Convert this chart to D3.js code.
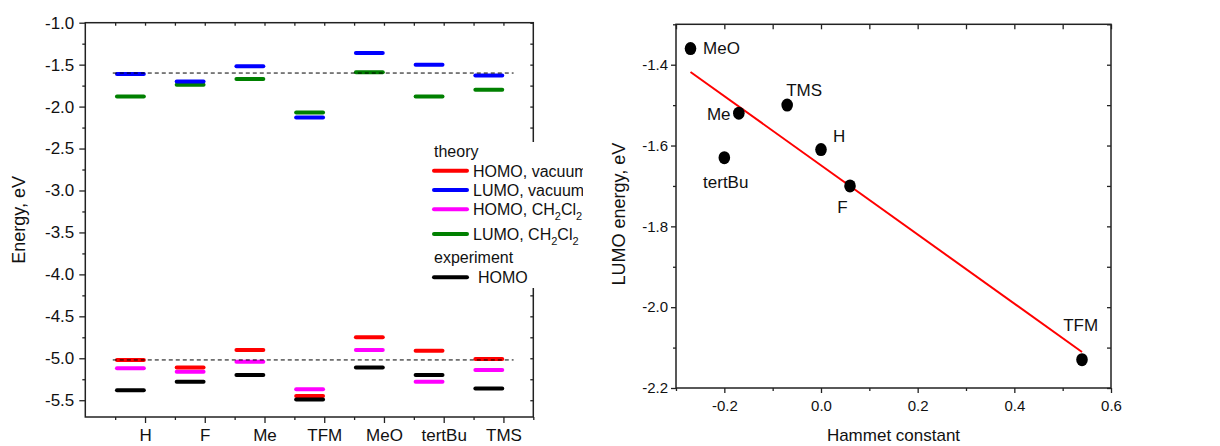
<!DOCTYPE html>
<html><head><meta charset="utf-8">
<script src="https://cdn.jsdelivr.net/npm/d3@7"></script>
<style>
body{margin:0;background:#fff}
svg{display:block}
text{font-family:"Liberation Sans",Arial,sans-serif;fill:#111}
</style>
</head><body><svg id="c" width="1220" height="446"></svg>
<script>
// ---------- Left chart data ----------
const categories = ["H","F","Me","TFM","MeO","tertBu","TMS"];
const homoVacuum     = [-5.02,-5.11,-4.90,-5.45,-4.75,-4.91,-5.01];
const lumoVacuum     = [-1.61,-1.70,-1.52,-2.13,-1.36,-1.50,-1.63];
const homoCH2Cl2     = [-5.12,-5.16,-5.04,-5.37,-4.90,-5.28,-5.14];
const lumoCH2Cl2     = [-1.88,-1.74,-1.67,-2.07,-1.59,-1.88,-1.80];
const homoExperiment = [-5.38,-5.28,-5.20,-5.49,-5.11,-5.20,-5.36];
const referenceLevels = [-1.60,-5.02];
const energyTicks = [-1.0,-1.5,-2.0,-2.5,-3.0,-3.5,-4.0,-4.5,-5.0,-5.5];

// ---------- Right chart data ----------
const pointLabels     = ["MeO","Me","TMS","H","tertBu","F","TFM"];
const hammettConstant = [-0.27,-0.17,-0.07,0.00,-0.20,0.06,0.54];
const lumoEnergy      = [-1.36,-1.52,-1.50,-1.61,-1.63,-1.70,-2.13];
const fitX = [-0.27,0.54];
const fitY = [-1.418,-2.111];
const hammettTicks = [-0.2,0.0,0.2,0.4,0.6];
const lumoTicks = [-1.4,-1.6,-1.8,-2.0,-2.2];

const svg = d3.select("#c");
const AX = "#222";
const fmt1 = d => d.toFixed(1);

function styleAxis(g){
  g.select(".domain").remove();
  g.selectAll(".tick line").attr("stroke",AX).attr("stroke-width",1.3);
  g.selectAll(".tick text").attr("fill","#111");
}

// ================= LEFT CHART =================
const L = {l:85.3, r:533.3, t:22.7, b:417};
const xL = d3.scaleLinear().domain([0,7.5]).range([L.l,L.r]);
const yL = d3.scaleLinear().domain([-5.7,-1.0]).range([L.b,L.t]);
const gL = svg.append("g");

const yMinorL = d3.range(-1.25,-5.71,-0.5);
const allYL = d3.range(-1.0,-5.71,-0.25);
const xMajorL = d3.range(1,8);
const xMinorL = d3.range(0.5,7.6,1);

gL.append("g").attr("transform",`translate(${L.l},0)`)
  .call(d3.axisLeft(yL).tickValues(energyTicks).tickSize(6).tickPadding(5).tickFormat(fmt1))
  .call(styleAxis).call(g=>g.selectAll("text").attr("font-size",17));
gL.append("g").attr("transform",`translate(${L.l},0)`)
  .call(d3.axisLeft(yL).tickValues(yMinorL).tickSize(3).tickFormat("")).call(styleAxis);
gL.append("g").attr("transform",`translate(${L.r},0)`)
  .call(d3.axisRight(yL).tickValues(allYL).tickSize(-3).tickFormat("")).call(styleAxis);
gL.append("g").attr("transform",`translate(0,${L.b})`)
  .call(d3.axisBottom(xL).tickValues(xMajorL).tickSize(6).tickPadding(6).tickFormat(i=>categories[i-1]))
  .call(styleAxis).call(g=>g.selectAll("text").attr("font-size",17));
gL.append("g").attr("transform",`translate(0,${L.b})`)
  .call(d3.axisBottom(xL).tickValues(xMinorL).tickSize(3).tickFormat("")).call(styleAxis);
gL.append("g").attr("transform",`translate(0,${L.t})`)
  .call(d3.axisTop(xL).tickValues(d3.range(0.5,7.1,0.5)).tickSize(-3).tickFormat("")).call(styleAxis);
gL.append("rect").attr("x",L.l).attr("y",L.t).attr("width",L.r-L.l).attr("height",L.b-L.t)
  .attr("fill","none").attr("stroke",AX).attr("stroke-width",1.5);

const seriesL = [
  {vals:homoVacuum, color:"#ff0000"},
  {vals:lumoVacuum, color:"#0000ff"},
  {vals:homoCH2Cl2, color:"#ff00ff"},
  {vals:lumoCH2Cl2, color:"#008000"},
  {vals:homoExperiment, color:"#000000"}
];
[3,1,2,0,4].forEach(si=>{
  const s = seriesL[si];
  gL.append("g").selectAll("line").data(s.vals).join("line")
    .attr("x1",(d,i)=>xL(i+1-0.47)).attr("x2",(d,i)=>xL(i+1-0.02))
    .attr("y1",d=>yL(d)).attr("y2",d=>yL(d))
    .attr("stroke",s.color).attr("stroke-width",4).attr("stroke-linecap","round");
});
// dashed reference levels (drawn over bars)
gL.append("g").selectAll("line").data(referenceLevels).join("line")
  .attr("x1",xL(0.46)).attr("x2",xL(7.17))
  .attr("y1",d=>yL(d)).attr("y2",d=>yL(d))
  .attr("stroke","#000").attr("stroke-width",1).attr("stroke-dasharray","4,3");

// y title
gL.append("text").attr("transform",`translate(25,${(L.t+L.b)/2}) rotate(-90)`)
  .attr("text-anchor","middle").attr("font-size",18).text("Energy, eV");

// legend
const leg = svg.append("g");
leg.append("clipPath").attr("id","legclip").append("rect")
  .attr("x",430).attr("y",142).attr("width",153).attr("height",146);
leg.append("rect").attr("x",430).attr("y",142).attr("width",153).attr("height",146).attr("fill","#fff");
const lg = leg.append("g").attr("clip-path","url(#legclip)");
lg.append("text").attr("x",434).attr("y",157).attr("font-size",16).text("theory");
const legItems = [
  {color:"#ff0000", y:170.7, parts:["HOMO, vacuum"]},
  {color:"#0000ff", y:190, parts:["LUMO, vacuum"]},
  {color:"#ff00ff", y:209.3, parts:["HOMO, CH","2","Cl","2"]},
  {color:"#008000", y:234, parts:["LUMO, CH","2","Cl","2"]},
];
legItems.forEach(it=>{
  lg.append("line").attr("x1",434).attr("x2",467).attr("y1",it.y).attr("y2",it.y)
    .attr("stroke",it.color).attr("stroke-width",4).attr("stroke-linecap","round");
  const t = lg.append("text").attr("x",473).attr("y",it.y+6).attr("font-size",16);
  it.parts.forEach((p,k)=>{
    const sub = k%2===1;
    t.append("tspan").attr("font-size",sub?11:16).attr("dy",sub?5:(k>0?-5:0)).text(p);
  });
});
lg.append("text").attr("x",434).attr("y",263).attr("font-size",16).text("experiment");
lg.append("line").attr("x1",434).attr("x2",467).attr("y1",277.3).attr("y2",277.3)
  .attr("stroke","#000").attr("stroke-width",4).attr("stroke-linecap","round");
lg.append("text").attr("x",478).attr("y",283).attr("font-size",16).text("HOMO");

// ================= RIGHT CHART =================
const R = {l:676, r:1111, t:24.3, b:388};
const xR = d3.scaleLinear().domain([-0.3,0.6]).range([R.l,R.r]);
const yR = d3.scaleLinear().domain([-2.2,-1.3]).range([R.b,R.t]);
const gR = svg.append("g");
const xMinorR = [-0.3,-0.1,0.1,0.3,0.5];
const yMinorR = [-1.3,-1.5,-1.7,-1.9,-2.1];

gR.append("g").attr("transform",`translate(0,${R.b})`)
  .call(d3.axisBottom(xR).tickValues(hammettTicks).tickSize(5).tickPadding(7).tickFormat(fmt1))
  .call(styleAxis).call(g=>g.selectAll("text").attr("font-size",15));
gR.append("g").attr("transform",`translate(0,${R.b})`)
  .call(d3.axisBottom(xR).tickValues(xMinorR).tickSize(3).tickFormat("")).call(styleAxis);
gR.append("g").attr("transform",`translate(${R.l},0)`)
  .call(d3.axisLeft(yR).tickValues(lumoTicks).tickSize(5).tickPadding(3).tickFormat(fmt1))
  .call(styleAxis).call(g=>g.selectAll("text").attr("font-size",15));
gR.append("g").attr("transform",`translate(${R.l},0)`)
  .call(d3.axisLeft(yR).tickValues(yMinorR).tickSize(3).tickFormat("")).call(styleAxis);
gR.append("g").attr("transform",`translate(0,${R.t})`)
  .call(d3.axisTop(xR).tickValues(hammettTicks.concat(xMinorR)).tickSize(-5).tickFormat("")).call(styleAxis);
gR.append("g").attr("transform",`translate(${R.r},0)`)
  .call(d3.axisRight(yR).tickValues(lumoTicks.concat(yMinorR)).tickSize(-4).tickFormat("")).call(styleAxis);
gR.append("rect").attr("x",R.l).attr("y",R.t).attr("width",R.r-R.l).attr("height",R.b-R.t)
  .attr("fill","none").attr("stroke",AX).attr("stroke-width",1.5);

// fit line
gR.append("path").datum(fitX.map((x,i)=>[x,fitY[i]]))
  .attr("d",d3.line().x(d=>xR(d[0])).y(d=>yR(d[1])))
  .attr("stroke","#ff0000").attr("stroke-width",2).attr("fill","none");

// points
gR.append("g").selectAll("ellipse").data(hammettConstant).join("ellipse")
  .attr("cx",d=>xR(d)).attr("cy",(d,i)=>yR(lumoEnergy[i]))
  .attr("rx",5.8).attr("ry",6.5).attr("fill","#000");

// point labels (pixel offsets from each point)
const labelOffset = {
  "MeO":[12.6,5,"start"], "Me":[-8.3,6.7,"end"], "TMS":[17,-9.3,"middle"],
  "H":[12,-7.7,"start"], "tertBu":[1.4,30.6,"middle"], "F":[-12.7,27.3,"start"],
  "TFM":[-1.4,-28.7,"middle"]
};
gR.append("g").selectAll("text").data(pointLabels).join("text")
  .attr("x",(d,i)=>xR(hammettConstant[i])+labelOffset[d][0])
  .attr("y",(d,i)=>yR(lumoEnergy[i])+labelOffset[d][1])
  .attr("text-anchor",d=>labelOffset[d][2])
  .attr("font-size",17).text(d=>d);

gR.append("text").attr("x",(R.l+R.r)/2).attr("y",441).attr("text-anchor","middle")
  .attr("font-size",17).text("Hammet constant");
gR.append("text").attr("transform",`translate(625,${(R.t+R.b)/2+8}) rotate(-90)`)
  .attr("text-anchor","middle").attr("font-size",18).text("LUMO energy, eV");
</script>
</body></html>
